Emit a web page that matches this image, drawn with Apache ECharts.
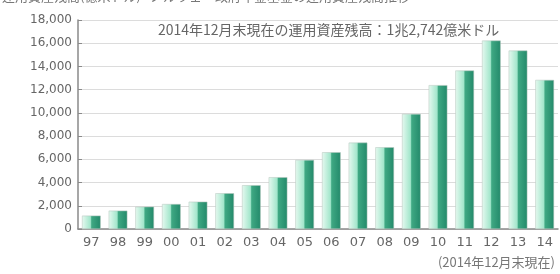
<!DOCTYPE html>
<html>
<head>
<meta charset="UTF-8">
<title></title>
<style>
  body { margin: 0; background: #fff; }
  #main { width: 560px; height: 274px; }
</style>
</head>
<body>
<div id="main"></div>
<script src="https://cdn.jsdelivr.net/npm/echarts@6/dist/echarts.min.js"></script>
<script>
var years = ['97', '98', '99', '00', '01', '02', '03', '04', '05', '06', '07', '08', '09', '10', '11', '12', '13', '14'];
// 運用資産残高（億米ドル）
var assets = [1150, 1580, 1920, 2150, 2350, 3080, 3770, 4460, 5950, 6610, 7440, 7040, 9910, 12390, 13650, 16230, 15370, 12840];
var yTicks = { min: 0, max: 18000, step: 2000 };

var chart = echarts.init(document.getElementById('main'));
var font = '"DejaVu Sans", "Noto Sans CJK JP", sans-serif';
var jp = '"Noto Sans CJK JP", sans-serif';

chart.setOption({
  animation: false,
  textStyle: { fontFamily: font },
  grid: { left: 78, right: 2, top: 20, bottom: 45 },
  xAxis: {
    type: 'category',
    data: years,
    axisLine: { lineStyle: { color: '#8a8a8a', width: 1.5 } },
    axisTick: { show: false },
    axisLabel: { color: '#666', fontSize: 13, margin: 7, fontFamily: font }
  },
  yAxis: {
    type: 'value',
    min: yTicks.min,
    max: yTicks.max,
    interval: yTicks.step,
    axisLine: { show: true, lineStyle: { color: '#8a8a8a', width: 1.5 } },
    axisTick: { show: true, inside: true, length: 4, lineStyle: { color: '#8a8a8a' } },
    splitLine: { lineStyle: { color: '#dcdcdc' } },
    axisLabel: {
      color: '#666', fontSize: 12, margin: 6, fontFamily: font,
      formatter: function (v) { return v.toLocaleString('en-US'); }
    }
  },
  series: [{
    type: 'bar',
    data: assets,
    barWidth: '70%',
    itemStyle: {
      borderColor: '#b5c4bc',
      borderWidth: 0.5,
      color: new echarts.graphic.LinearGradient(0, 0, 1, 0, [
        { offset: 0, color: '#e6f9f0' },
        { offset: 0.45, color: '#a2e6cb' },
        { offset: 0.52, color: '#3fa883' },
        { offset: 1, color: '#23896a' }
      ])
    }
  }],
  graphic: [
    {
      type: 'text', left: 2, top: -10,
      style: { text: '運用資産残高(億米ドル)', fill: '#777', font: '13px ' + jp }
    },
    {
      type: 'text', left: 150, top: -10,
      style: { text: 'ノルウェー政府年金基金の運用資産残高推移', fill: '#777', font: '13px ' + jp }
    },
    {
      type: 'text', left: 158, top: 23,
      style: { text: '2014年12月末現在の運用資産残高：1兆2,742億米ドル', fill: '#666', font: '14px ' + jp }
    },
    {
      type: 'text', right: 5, top: 256,
      style: { text: '(2014年12月末現在)', fill: '#777', font: '13px ' + jp }
    }
  ]
});
</script>
</body>
</html>
